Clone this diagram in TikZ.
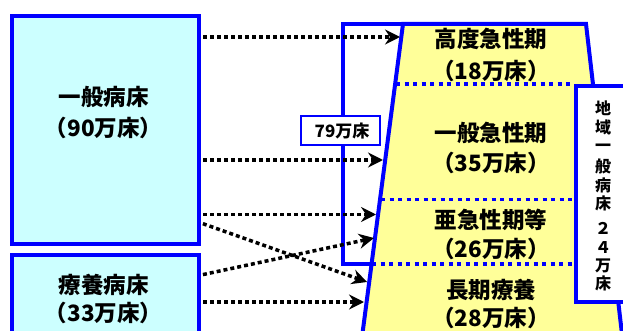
\documentclass[tikz,border=0pt]{standalone}
\usepackage{fontspec}
\newfontfamily\jp{Noto Sans CJK JP}
\usetikzlibrary{arrows.meta}
\definecolor{bblue}{RGB}{0,0,255}
\definecolor{lcyan}{RGB}{204,255,255}
\definecolor{lyellow}{RGB}{255,255,153}
\begin{document}
\begin{tikzpicture}[x=1pt,y=-1pt,
  bigtxt/.style={font=\jp\bfseries\fontsize{22.5}{26}\selectfont, inner sep=0pt, text height=18.7pt, text depth=1.6pt},
  midtxt/.style={font=\jp\bfseries\fontsize{17}{20}\selectfont, inner sep=0pt, text height=14.1pt, text depth=1.2pt},
  vtxt/.style={font=\jp\bfseries\fontsize{16}{19}\selectfont, inner sep=0pt, text height=13.3pt, text depth=1.1pt},
  bedbox/.style={draw=bblue, line width=4pt, inner sep=0pt, anchor=north west},
  bluesep/.style={draw=bblue, line width=3.5pt, dash pattern=on 4pt off 4.5pt},
  conn/.style={line width=3.5pt, dash pattern=on 4pt off 3pt, shorten <=2pt, -{Stealth[length=15pt,width=15pt,inset=5pt]}}]
\useasboundingbox (0,0) rectangle (623,331);
\begin{scope}
\clip (0,0) rectangle (623,331);
% left boxes
\node[bedbox, fill=lcyan, minimum width=187pt, minimum height=228pt] (ippan) at (10,14) {};
\node[bedbox, fill=lcyan, minimum width=187pt, minimum height=100pt] (ryoyo) at (10,253) {};
% 79 frame
\draw[bblue, line width=4pt] (373,264) -- (343,264) -- (343,24) -- (405,24);
% trapezoid
\path[draw=bblue, line width=4pt, fill=lyellow, line join=miter] (403,24) coordinate (ttl) -- (586,24) coordinate (ttr) -- (625,360) coordinate (tbr) -- (359,360) coordinate (tbl) -- cycle;
% separators
\draw[bluesep] (396,84) -- (573,84);
\draw[bluesep] (381,199.5) -- (573,199.5);
\draw[bluesep] (372,264) -- (573,264);
% right box
\node[bedbox, fill=white, minimum width=80pt, minimum height=216pt] (chiiki) at (574,84) {};
\end{scope}
% 79 label box
\node[draw=bblue, line width=2pt, fill=white, minimum width=79pt, minimum height=29pt, inner sep=0pt] (sum) at (340.5,130.5) {};
\node[midtxt] (sumtxt) at (342,131) {79万床};
% texts
\node[bigtxt] (t1a) at (103.5,97) {一般病床};
\node[bigtxt] (t1b) at (103.5,128) {（90万床）};
\node[bigtxt] (t2a) at (103.5,285) {療養病床};
\node[bigtxt] (t2b) at (103.5,313) {（33万床）};
\node[bigtxt] (k1a) at (491,39) {高度急性期};
\node[bigtxt] (k1b) at (491,71) {（18万床）};
\node[bigtxt] (k2a) at (491,133) {一般急性期};
\node[bigtxt] (k2b) at (491,163) {（35万床）};
\node[bigtxt] (k3a) at (491,220) {亜急性期等};
\node[bigtxt] (k3b) at (491,249) {（26万床）};
\node[bigtxt] (k4a) at (491,290) {長期療養};
\node[bigtxt] (k4b) at (491,318) {（28万床）};
% vertical text
\foreach \c/\y [count=\i] in {地/108,域/127,一/145,般/166,病/185,床/203,２/228,４/247,万/265,床/283}
  \node[vtxt] (v\i) at (603,\y) {\c};
% connector targets
\coordinate (a1) at (400,37);
\coordinate (a2) at (383,160);
\coordinate (a3) at (376,214.5);
\coordinate (a4) at (374,238);
\coordinate (a5) at (367,282);
\coordinate (a6) at (364,302);
\draw[conn] (ippan.east |- a1) -- (a1);
\draw[conn] (ippan.east |- a2) -- (a2);
\draw[conn] (ippan.east |- a3) -- (a3);
\draw[conn] (ryoyo.east |- 0,275) -- (a4);
\draw[conn] (ippan.east |- 0,223) -- (a5);
\draw[conn] (ryoyo.east |- a6) -- (a6);
\end{tikzpicture}
\end{document}
